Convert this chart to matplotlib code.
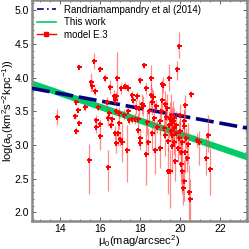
import matplotlib
matplotlib.use("Agg")
import matplotlib.pyplot as plt
from matplotlib.ticker import MultipleLocator
from matplotlib.lines import Line2D
import numpy as np

plt.rcParams['font.family'] = ['Liberation Sans', 'DejaVu Sans']
plt.rcParams['mathtext.default'] = 'regular'

# surface brightness (mag/arcsec^2) and log(a0) with asymmetric errors
mu0 = [13.87, 14.93, 14.82, 14.77, 14.97, 14.80, 14.90, 15.27, 15.43, 15.57,
       15.68, 15.62, 15.75, 15.88, 15.80, 15.80, 15.98, 16.02, 16.00, 16.27,
       16.33, 16.42, 16.38, 16.52, 16.47, 16.55, 16.60, 16.70, 16.82, 16.75,
       16.85, 16.82, 16.75, 16.80, 16.93, 16.90, 16.95, 17.07, 17.00, 17.10,
       17.18, 17.25, 17.35, 17.40, 17.42, 17.47, 17.60, 17.60, 17.67, 17.83,
       17.80, 17.75, 17.90, 17.93, 17.92, 18.02, 17.98, 18.00, 18.08, 18.15,
       18.22, 18.30, 18.30, 18.35, 18.45, 18.55, 18.57, 18.60, 18.60, 18.65,
       18.73, 18.70, 18.80, 18.85, 18.99, 19.05, 19.08, 19.13, 19.10, 19.20,
       19.27, 19.30, 19.35, 19.40, 19.42, 19.45, 19.47, 19.50, 19.52, 19.55,
       19.55, 19.58, 19.60, 19.62, 19.65, 19.68, 19.70, 19.72, 19.77, 19.80,
       19.85, 19.82, 19.90, 19.93, 19.95, 20.00, 20.02, 20.05, 20.07, 20.10,
       20.12, 20.15, 20.18, 20.20, 20.22, 20.27, 20.27, 20.30, 20.35, 20.40,
       20.43, 20.52, 20.55, 20.85, 20.97, 21.40, 21.30, 21.48, 19.25, 18.40,
       19.00]
loga = [3.42, 4.16, 3.63, 3.43, 3.33, 3.21, 3.52, 3.56, 2.77, 3.94,
        4.24, 3.88, 3.80, 3.56, 3.37, 3.27, 3.13, 4.13, 3.31, 3.99,
        3.63, 3.40, 2.67, 3.86, 3.47, 3.30, 3.39, 3.72, 3.73, 3.66,
        4.00, 3.50, 3.18, 3.03, 3.48, 3.18, 3.33, 3.84, 3.09, 3.04,
        3.45, 3.87, 2.93, 3.85, 3.51, 3.37, 3.74, 3.38, 3.66, 3.72,
        3.56, 3.39, 3.38, 3.55, 3.22, 3.96, 3.10, 3.03, 3.61, 3.58,
        4.18, 3.84, 2.86, 3.34, 3.50, 3.74, 4.00, 3.64, 3.17, 3.71,
        2.92, 3.40, 3.58, 3.27, 2.96, 3.50, 3.91, 3.89, 3.66, 3.25,
        3.14, 3.42, 3.55, 3.06, 2.62, 3.30, 4.00, 3.38, 2.62, 3.45,
        3.20, 3.32, 3.15, 2.98, 3.35, 3.25, 3.05, 3.40, 2.76, 3.30,
        4.12, 3.17, 2.95, 4.47, 3.10, 3.20, 3.45, 2.90, 2.72, 2.62,
        3.05, 2.36, 2.47, 3.28, 3.35, 3.59, 2.89, 3.10, 2.80, 3.02,
        2.30, 2.20, 3.75, 3.07, 3.05, 3.15, 2.81, 2.65, 3.60, 3.05,
        3.35]
err_lo = [.12, .03, .04, .04, .04, .05, .04, .06, .50, .15,
          .12, .08, .06, .06, .08, .10, .20, .04, .08, .06,
          .08, .12, .35, .10, .06, .06, .06, .10, .06, .06,
          .38, .06, .10, .15, .08, .20, .10, .08, .10, .30,
          .08, .06, .48, .06, .06, .06, .06, .05, .06, .06,
          .10, .08, .10, .12, .08, .05, .12, .10, .15, .15,
          .04, .08, .45, .20, .15, .18, .18, .20, .25, .10,
          .35, .25, .08, .10, .30, .15, .05, .12, .20, .15,
          .30, .25, .20, .15, .35, .20, .20, .25, .55, .30,
          .20, .25, .15, .40, .30, .20, .20, .15, .30, .20,
          .15, .15, .20, .18, .25, .20, .15, .25, .30, .35,
          .20, .25, .30, .25, .15, .20, .30, .15, .20, .30,
          .40, .45, .05, .10, .35, .25, .25, .40, .20, .20,
          .20]
err_hi = [.12, .03, .04, .04, .04, .05, .04, .06, .25, .12,
          .13, .08, .06, .06, .08, .10, .12, .04, .08, .06,
          .08, .12, .25, .10, .06, .06, .06, .10, .06, .06,
          .38, .06, .10, .15, .08, .10, .10, .08, .10, .30,
          .08, .06, .36, .06, .06, .06, .06, .05, .06, .06,
          .10, .08, .10, .12, .08, .05, .12, .10, .15, .15,
          .04, .08, .45, .20, .15, .18, .18, .20, .25, .10,
          .35, .25, .08, .10, .30, .15, .05, .12, .20, .15,
          .30, .25, .20, .15, .35, .20, .20, .25, .30, .30,
          .20, .25, .15, .40, .30, .20, .20, .15, .30, .20,
          .12, .15, .20, .20, .25, .20, .15, .25, .30, .35,
          .20, .25, .30, .25, .15, .15, .30, .15, .20, .30,
          .40, .30, .05, .10, .15, .30, .35, .30, .20, .20,
          .20]

# fitted relations (endpoints at the axis edges)
line_x = [12.6, 23.35]
randria_y = [3.84, 3.25]
thiswork_y = [3.91, 2.82]

NAVY = "#000080"
GREEN = "#00cc66"

fig = plt.figure(figsize=(2.49, 2.49), dpi=100)
ax = fig.add_axes([0.128, 0.112, 0.864, 0.888])

ax.plot(line_x, randria_y, color=NAVY, lw=2.6, dashes=(5, 1.6), zorder=3)
ax.plot(line_x, thiswork_y, color=GREEN, lw=4.5, zorder=2)
ax.errorbar(mu0, loga, yerr=[err_lo, err_hi], fmt="P", color="red",
            ms=3.6, mew=0, ecolor=(1, 0.25, 0.25, 0.6), elinewidth=0.9,
            capsize=1, capthick=0.6, zorder=4)

ax.set_xlim(12.6, 23.35)
ax.set_ylim(1.87, 5.15)
ax.xaxis.set_major_locator(MultipleLocator(2))
ax.xaxis.set_minor_locator(MultipleLocator(0.5))
ax.yaxis.set_major_locator(MultipleLocator(0.5))
ax.yaxis.set_minor_locator(MultipleLocator(0.1))
ax.tick_params(which="both", direction="in", top=True, right=True,
               labelsize=7.5, color="#444444")
ax.tick_params(which="major", length=3, width=0.6, pad=2)
ax.tick_params(which="minor", length=1.5, width=0.5)
for s in ax.spines.values():
    s.set_color("#888888")
    s.set_linewidth(1.8)

ax.set_xlabel(r"$\mu_0$(mag$/$arcsec$^2$)", fontsize=8, labelpad=-0.5)
ax.set_ylabel(r"log(a$_0$(km$^2$s$^{-2}$kpc$^{-1}$))", fontsize=8, labelpad=-1)

# legend with thin handles like the reference
handles = [
    Line2D([], [], color=NAVY, lw=1.2, linestyle=(0, (4, 2, 1, 2))),
    Line2D([], [], color=GREEN, lw=1.2),
    Line2D([], [], color="red", lw=1.0, marker="s", ms=3),
]
labels = ["Randriamampandry et al (2014)", "This work", "model E.3"]
ax.legend(handles, labels, loc="upper left", frameon=False, fontsize=7,
          handlelength=2.0, handletextpad=0.8, labelspacing=0.25,
          borderaxespad=0.2, borderpad=0.3)

fig.savefig("out.png", dpi=100)
